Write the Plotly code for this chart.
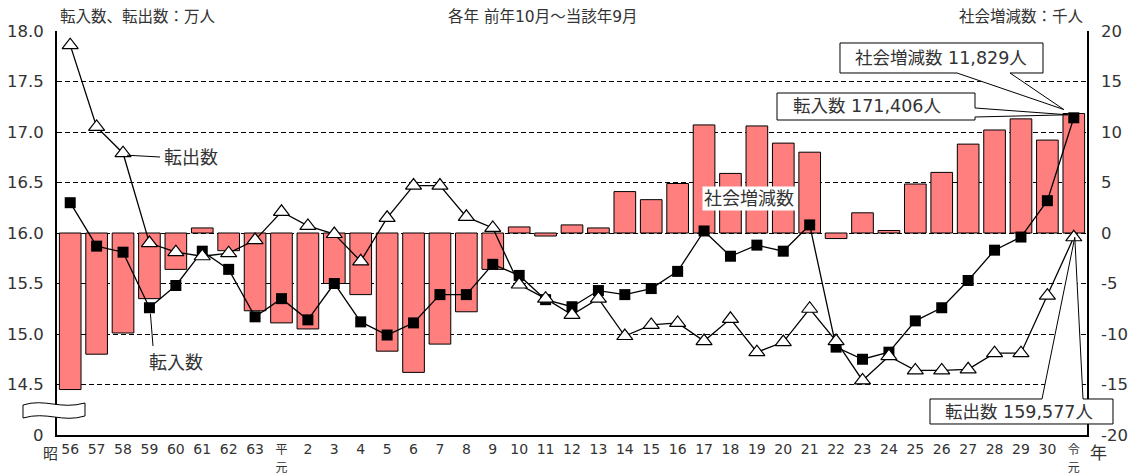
import plotly.graph_objects as go

# ---- data ----
years = ["56", "57", "58", "59", "60", "61", "62", "63", "平元",
         "2", "3", "4", "5", "6", "7", "8", "9", "10", "11", "12", "13", "14", "15",
         "16", "17", "18", "19", "20", "21", "22", "23", "24", "25", "26", "27", "28",
         "29", "30", "令元"]
# social increase (thousand persons)
social = [-15.5, -12.0, -9.9, -6.5, -3.6, 0.5, -1.75, -7.7, -8.9,
          -9.5, -5.0, -6.1, -11.7, -13.8, -11.0, -7.8, -3.6, 0.6, -0.3, 0.8, 0.5, 4.1, 3.3,
          4.9, 10.7, 5.9, 10.6, 8.9, 8.0, -0.55, 2.0, 0.25, 4.85, 6.0, 8.8, 10.2,
          11.3, 9.2, 11.829]
# inflow (10 thousand persons)
inflow = [16.30, 15.87, 15.81, 15.26, 15.48, 15.82, 15.64, 15.17, 15.35,
          15.14, 15.50, 15.12, 14.99, 15.11, 15.39, 15.39, 15.69, 15.58, 15.34, 15.27, 15.43, 15.39, 15.45,
          15.62, 16.02, 15.77, 15.88, 15.82, 16.08, 14.87, 14.75, 14.82, 15.13, 15.26, 15.53, 15.83,
          15.96, 16.32, 17.1406]
# outflow (10 thousand persons)
outflow = [17.86, 17.05, 16.79, 15.90, 15.81, 15.77, 15.80, 15.93, 16.21,
           16.07, 15.99, 15.72, 16.15, 16.47, 16.47, 16.16, 16.05, 15.49, 15.35, 15.19, 15.35, 14.98, 15.09,
           15.11, 14.93, 15.15, 14.82, 14.92, 15.25, 14.93, 14.54, 14.78, 14.64, 14.64, 14.65, 14.81,
           14.81, 15.38, 15.9577]

left_tickvals = [14.0, 14.5, 15.0, 15.5, 16.0, 16.5, 17.0, 17.5, 18.0]
left_ticktext = ["0", "14.5", "15.0", "15.5", "16.0", "16.5", "17.0", "17.5", "18.0"]
right_tickvals = [-20, -15, -10, -5, 0, 5, 10, 15, 20]
right_ticktext = ["-20", "-15", "-10", "-5", "0", "5", "10", "15", "20"]

FONT = "DejaVu Sans, Noto Sans CJK JP"
CJK = "Noto Sans CJK JP"
TXT = "#333333"
PAGE_OFF = 8  # default body margin of the html page
W, H = 1137, 473
L, R, T, B = 57, 1087, 31, 435   # plot area in page pixels

n = len(years)
xs = list(range(n))


def tick_label(s):
    if len(s) == 2 and s.endswith("元"):
        return '<span style="font-size:12px">%s<br>%s</span>' % (s[0], s[1])
    return s


def px_x(p):
    return (p - L) / (R - L)


def px_y(p):
    return (B - p) / (B - T)


def dx(i):  # category index -> page pixel x
    return L + (i + 0.5) / n * (R - L)


def dy_left(v):  # left-axis value -> page pixel y
    return B - (v - 14.0) / 4.0 * (B - T)


def dy_right(v):
    return B - (v + 20.0) / 40.0 * (B - T)


def path(points):
    return "M " + " L ".join("%.5f,%.5f" % (px_x(x), px_y(y)) for x, y in points) + " Z"


fig = go.Figure()
fig.add_trace(go.Bar(x=xs, y=social, yaxis="y", width=0.82,
                     marker=dict(color="#FF7F7F", line=dict(color="#000000", width=1)),
                     name="社会増減数"))
fig.add_trace(go.Scatter(x=xs, y=inflow, yaxis="y2", mode="lines+markers",
                         line=dict(color="#000000", width=1.3),
                         marker=dict(symbol="square", size=11, color="#000000"),
                         name="転入数"))
fig.add_trace(go.Scatter(x=xs, y=outflow, yaxis="y2", mode="lines+markers",
                         line=dict(color="#000000", width=1.3),
                         marker=dict(symbol="triangle-up", size=14, color="#ffffff",
                                     line=dict(color="#000000", width=1.2)),
                         name="転出数"))

shapes = []
# break symbol on left axis
brk = ("M %.5f,%.5f C %.5f,%.5f %.5f,%.5f %.5f,%.5f L %.5f,%.5f C %.5f,%.5f %.5f,%.5f %.5f,%.5f Z" % (
    px_x(23), px_y(405), px_x(45), px_y(398), px_x(60), px_y(410), px_x(85), px_y(403),
    px_x(85), px_y(416), px_x(62), px_y(423), px_x(47), px_y(411), px_x(23), px_y(418)))
shapes.append(dict(type="path", path=brk, xref="paper", yref="paper",
                   fillcolor="#ffffff", line=dict(color="#000000", width=1), layer="above"))

# leader lines for series labels
shapes.append(dict(type="line", xref="paper", yref="paper",
                   x0=px_x(dx(2) + 4), y0=px_y(dy_left(outflow[2]) + 2),
                   x1=px_x(160), y1=px_y(157), line=dict(color="#000000", width=1), layer="above"))
shapes.append(dict(type="line", xref="paper", yref="paper",
                   x0=px_x(dx(3) + 1), y0=px_y(dy_left(inflow[3]) + 6),
                   x1=px_x(153), y1=px_y(346), line=dict(color="#000000", width=1), layer="above"))

# callouts
last = n - 1
ax1 = (dx(last) - 10, dy_right(social[last]) - 4)
shapes.append(dict(type="path", xref="paper", yref="paper", layer="above",
                   path=path([(840, 43), (1043, 43), (1043, 73), (1010, 73), ax1, (957, 73), (840, 73)]),
                   fillcolor="#ffffff", line=dict(color="#000000", width=1)))
ax2 = (dx(last) - 6, dy_left(inflow[last]) - 3)
shapes.append(dict(type="path", xref="paper", yref="paper", layer="above",
                   path=path([(777, 93), (975, 93), (975, 108), ax2, (975, 117), (975, 120), (777, 120)]),
                   fillcolor="#ffffff", line=dict(color="#000000", width=1)))
ax3 = (dx(last) + 1, dy_left(outflow[last]))
shapes.append(dict(type="path", xref="paper", yref="paper", layer="above",
                   path=path([(930, 399), (1042, 399), ax3, (1083, 399), (1113, 399), (1113, 424), (930, 424)]),
                   fillcolor="#ffffff", line=dict(color="#000000", width=1)))

ann = []


def txt(x, y, s, size=16, xanchor="center", bg=None, family=FONT, yref_val=None):
    d = dict(x=px_x(x), y=px_y(y) if yref_val is None else yref_val, xref="paper", yref="paper",
             text=s, showarrow=False, xanchor=xanchor, yanchor="middle",
             font=dict(family=family, size=size, color=TXT))
    if bg:
        d["bgcolor"] = bg
    ann.append(d)


txt(58, 17, "転入数、転出数：万人", 15.5, "left")
txt(543, 17, "各年 前年10月～当該年9月", 15.5)
txt(1086, 17, "社会増減数：千人", 15.5, "right")
txt(191, 158, "転出数", 18)
txt(176, 362, "転入数", 18)
txt(749, 198, "社会増減数", 18, bg="#ffffff")
txt(941, 58, "社会増減数 11,829人", 17.5)
txt(867, 106, "転入数 171,406人", 17.5)
txt(1019, 412, "転出数 159,577人", 17.5)
txt(50, 452, "昭", 15, family=CJK)
txt(1098, 451, "年", 17, family=CJK)

# y tick labels placed beside the axes
for v, s in zip(left_tickvals, left_ticktext):
    txt(46, 0, s, 16.5, "right", yref_val=(v - 14.0) / 4.0)
for v, s in zip(right_tickvals, right_ticktext):
    txt(1099, 0, s, 16.5, "left", yref_val=(v + 20.0) / 40.0)

fig.update_layout(
    width=W - PAGE_OFF, height=H - PAGE_OFF,
    margin=dict(l=L - PAGE_OFF, r=W - R, t=T - PAGE_OFF, b=H - B, pad=0, autoexpand=False),
    paper_bgcolor="#ffffff", plot_bgcolor="#ffffff",
    showlegend=False,
    font=dict(family=FONT, size=15, color=TXT),
    xaxis=dict(range=[-0.5, n - 0.5], tickvals=xs, ticktext=[tick_label(s) for s in years],
               showgrid=False, showline=True, linecolor="#000000", linewidth=2,
               ticks="", tickfont=dict(family=FONT, size=14, color=TXT), zeroline=False,
               automargin=False),
    yaxis=dict(side="right", range=[-20, 20], tickvals=right_tickvals,
               showticklabels=False,
               showgrid=True, gridcolor="#000000", gridwidth=1, griddash="5px,3px",
               showline=True, linecolor="#000000", linewidth=1.5, zeroline=False, ticks="",
               automargin=False),
    yaxis2=dict(overlaying="y", side="left", range=[14, 18], tickvals=left_tickvals,
                showticklabels=False, showgrid=False, showline=True, linecolor="#000000",
                linewidth=1.5, zeroline=False, ticks="", automargin=False),
    shapes=shapes, annotations=ann,
)

fig.write_html("out.html")
